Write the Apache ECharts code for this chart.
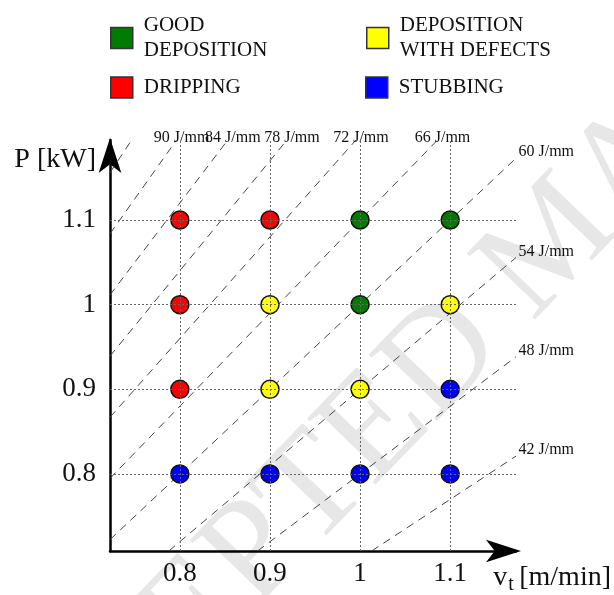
<!DOCTYPE html>
<html>
<head>
<meta charset="utf-8">
<script src="https://cdn.jsdelivr.net/npm/echarts@6/dist/echarts.min.js"></script>
<style>
  html, body { margin: 0; padding: 0; background: #fff; }
  #main { width: 614px; height: 595px; }
</style>
</head>
<body>
<div id="main"></div>
<script>
// grid values (travel speed / power)
var speedTicks = [0.8, 0.9, 1, 1.1];
var powerTicks = [0.8, 0.9, 1, 1.1];

// test points [v_t m/min, P kW]
var goodPts = [[1, 1.1], [1.1, 1.1], [1, 1]];
var defectPts = [[0.9, 1], [1.1, 1], [0.9, 0.9], [1, 0.9]];
var drippingPts = [[0.8, 1.1], [0.9, 1.1], [0.8, 1], [0.8, 0.9]];
var stubbingPts = [[1.1, 0.9], [0.8, 0.8], [0.9, 0.8], [1, 0.8], [1.1, 0.8]];

// constant heat input lines, J/mm (96 is drawn without label)
var energyLevels = [42, 48, 54, 60, 66, 72, 78, 84, 90, 96];
var energyLabels = ['42 J/mm', '48 J/mm', '54 J/mm', '60 J/mm', '66 J/mm', '72 J/mm', '78 J/mm', '84 J/mm', '90 J/mm', ''];

var vMin = 0.7225, vMax = 1.173;
var pMin = 0.709, pMax = 1.1945;
var serif = '"Liberation Serif", "DejaVu Serif", serif';

var myChart = echarts.init(document.getElementById('main'));

// E [J/mm] = 60 * P[kW] / v[m/min]  ->  P = E * v / 60
function energyLine(E, i) {
  var lo, hi, atTop;
  var vBottom = 60 * pMin / E;
  lo = vBottom >= vMin ? [vBottom, pMin] : [vMin, E * vMin / 60];
  var vTop = 60 * pMax / E;
  atTop = vTop <= vMax;
  hi = atTop ? [vTop, pMax] : [vMax, E * vMax / 60];
  var lbl = atTop
    ? { show: true, position: 'top', distance: 0, offset: [5, 6] }
    : { show: true, position: 'right', distance: 0, offset: [2, -6] };
  lbl.formatter = energyLabels[i];
  lbl.fontFamily = serif;
  lbl.fontSize = 16;
  lbl.color = '#111';
  return {
    type: 'line',
    silent: true,
    symbol: 'circle',
    symbolSize: 1,
    itemStyle: { color: 'transparent' },
    lineStyle: { color: '#444', width: 1, type: [8, 6] },
    z: 1,
    data: [lo, { value: hi, label: lbl }]
  };
}

function dots(name, color, pts) {
  return {
    name: name,
    type: 'scatter',
    symbolSize: 18,
    itemStyle: { color: color, borderColor: '#111', borderWidth: 1.5, opacity: 1 },
    z: 2,
    data: pts
  };
}

var legendCommon = {
  padding: 0,
  icon: 'rect',
  itemWidth: 22,
  itemHeight: 21,
  itemStyle: { borderColor: '#333', borderWidth: 1.5 },
  textStyle: { fontFamily: serif, fontSize: 21, color: '#111', lineHeight: 25, padding: [0, 0, 0, 6] },
  formatter: function (name) { return name.replace(' ', '\n'); }
};

var series = [
  dots('GOOD DEPOSITION', '#007d00', goodPts),
  dots('DEPOSITION WITH DEFECTS', '#ffff00', defectPts),
  dots('DRIPPING', '#ff0000', drippingPts),
  dots('STUBBING', '#0000ff', stubbingPts),
  {
    // dotted grid through the test points
    type: 'line',
    data: [],
    z: 3,
    markLine: {
      silent: true,
      symbol: 'none',
      animation: false,
      label: { show: false },
      lineStyle: { color: '#666', width: 1, type: [2, 2] },
      data: speedTicks.map(function (v) { return { xAxis: v }; })
        .concat(powerTicks.map(function (p) { return { yAxis: p }; }))
    }
  }
].concat(energyLevels.map(energyLine));

myChart.setOption({
  animation: false,
  backgroundColor: '#fff',
  graphic: [{
    type: 'text',
    z: -10,
    silent: true,
    x: -41,
    y: 861,
    rotation: 46 * Math.PI / 180,
    style: {
      text: 'ACCEPTED MANUSCRIPT',
      fontFamily: serif,
      fontSize: 145,
      fill: '#e7e7e7',
      verticalAlign: 'middle'
    }
  }],
  legend: [
    Object.assign({ left: 110, top: 13, data: ['GOOD DEPOSITION'] }, legendCommon),
    Object.assign({ left: 366, top: 13, data: ['DEPOSITION WITH DEFECTS'] }, legendCommon),
    Object.assign({ left: 110, top: 75, data: ['DRIPPING'] }, legendCommon),
    Object.assign({ left: 365, top: 75, data: ['STUBBING'] }, legendCommon)
  ],
  grid: { left: 110, right: 97, top: 140, bottom: 44, containLabel: false },
  xAxis: {
    type: 'value',
    min: vMin,
    max: vMax,
    name: '{v|v}{t|t} {v|[m/min]}',
    nameLocation: 'end',
    nameGap: 95,
    nameTextStyle: {
      align: 'right',
      verticalAlign: 'top',
      padding: [10, 0, 0, 0],
      rich: {
        v: { fontFamily: serif, fontSize: 28, color: '#111' },
        t: { fontFamily: serif, fontSize: 20, color: '#111', padding: [14, 2, 0, 1] }
      }
    },
    axisLine: {
      onZero: false,
      symbol: ['none', 'arrow'],
      symbolSize: [17, 35],
      symbolOffset: [0, 5],
      lineStyle: { color: '#000', width: 2.5 }
    },
    axisTick: { show: false },
    splitLine: { show: false },
    axisLabel: {
      customValues: speedTicks,
      margin: 9,
      fontFamily: serif,
      fontSize: 27,
      color: '#111'
    }
  },
  yAxis: {
    type: 'value',
    min: pMin,
    max: pMax,
    name: 'P [kW]',
    nameLocation: 'end',
    nameGap: 0,
    nameTextStyle: {
      fontFamily: serif,
      fontSize: 28,
      color: '#111',
      align: 'right',
      verticalAlign: 'top',
      padding: [6, 14, 0, 0]
    },
    axisLine: {
      onZero: false,
      symbol: ['none', 'arrow'],
      symbolSize: [17, 35],
      symbolOffset: [0, 2],
      lineStyle: { color: '#000', width: 2.5 }
    },
    axisTick: { show: false },
    splitLine: { show: false },
    axisLabel: {
      customValues: powerTicks,
      margin: 14,
      fontFamily: serif,
      fontSize: 27,
      color: '#111'
    }
  },
  series: series
});

window.addEventListener('resize', function () {
  myChart.resize();
});
</script>
</body>
</html>
